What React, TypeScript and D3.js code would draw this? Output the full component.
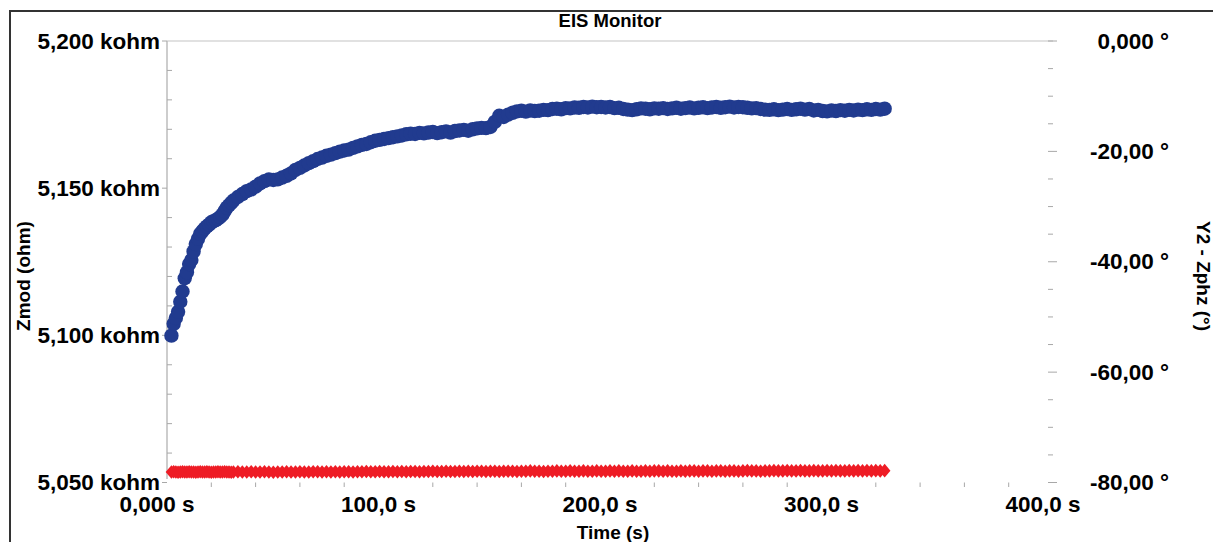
import React from 'react';
import * as d3 from 'd3';

// Sample times (s)
const timeS = [
  2, 3, 4, 5, 6, 7, 8, 9, 10, 11,
  12, 13, 14, 15, 16, 17, 18, 19, 20, 21,
  22, 23, 24, 25, 26, 27, 28, 29, 30, 32,
  34, 36, 38, 40, 42, 44, 46, 48, 50, 52,
  54, 56, 58, 60, 62, 64, 66, 68, 70, 72,
  74, 76, 78, 80, 82, 84, 86, 88, 90, 92,
  94, 96, 98, 100, 102, 104, 106, 108, 110, 112,
  114, 116, 118, 120, 122, 124, 126, 128, 130, 132,
  134, 136, 138, 140, 142, 144, 146, 148, 150, 152,
  154, 156, 158, 160, 162, 164, 166, 168, 170, 172,
  174, 176, 178, 180, 182, 184, 186, 188, 190, 192,
  194, 196, 198, 200, 202, 204, 206, 208, 210, 212,
  214, 216, 218, 220, 222, 224, 226, 228, 230, 232,
  234, 236, 238, 240, 242, 244, 246, 248, 250, 252,
  254, 256, 258, 260, 262, 264, 266, 268, 270, 272,
  274, 276, 278, 280, 282, 284, 286, 288, 290, 292,
  294, 296, 298, 300, 302, 304, 306, 308, 310, 312,
  314, 316, 318, 320, 322, 324,
];

// Zmod (kohm)
const zmodKohm = [
  5099.9, 5103.9, 5105.9, 5108.0, 5111.4, 5114.9, 5119.4, 5121.4, 5124.2, 5125.6,
  5128.5, 5131.0, 5132.8, 5134.5, 5135.4, 5136.3, 5137.0, 5137.6, 5138.4, 5138.8,
  5139.1, 5139.6, 5140.2, 5141.0, 5142.2, 5143.4, 5144.2, 5145.0, 5145.8, 5147.0,
  5148.0, 5149.0, 5149.6, 5150.5, 5151.6, 5152.4, 5153.0, 5152.8, 5153.0, 5153.6,
  5154.2, 5155.0, 5156.2, 5156.9, 5157.7, 5158.5, 5159.2, 5159.9, 5160.4, 5161.0,
  5161.4, 5161.9, 5162.4, 5162.8, 5163.1, 5163.7, 5164.2, 5164.7, 5165.0, 5165.6,
  5166.1, 5166.4, 5166.7, 5167.0, 5167.3, 5167.6, 5167.9, 5168.3, 5168.5, 5168.4,
  5168.8, 5168.6, 5168.9, 5169.1, 5168.7, 5169.0, 5169.3, 5168.9, 5169.4, 5169.6,
  5169.8, 5169.5, 5170.0, 5170.3, 5170.5, 5170.4, 5170.8, 5172.5, 5174.6, 5174.2,
  5175.0, 5175.6, 5176.1, 5176.3, 5176.0, 5176.4, 5176.2, 5176.3, 5176.6, 5176.5,
  5176.9, 5177.0, 5176.8, 5177.2, 5177.1, 5177.4, 5177.3, 5177.6, 5177.4, 5177.7,
  5177.5, 5177.6, 5177.4, 5177.6, 5177.2, 5177.3, 5176.9, 5176.7, 5176.5, 5176.8,
  5177.1, 5177.0, 5176.8, 5177.1, 5177.0, 5177.2, 5176.9, 5177.1, 5177.3, 5177.0,
  5177.2, 5177.4, 5177.1, 5177.3, 5177.5, 5177.2, 5177.4, 5177.6, 5177.3, 5177.5,
  5177.7, 5177.4, 5177.6, 5177.5, 5177.3, 5177.1, 5177.2, 5176.9, 5176.7, 5176.6,
  5176.8, 5176.5, 5176.7, 5176.9, 5176.6, 5176.8, 5177.0, 5176.7, 5176.9, 5176.4,
  5176.6, 5176.2, 5176.1, 5176.4, 5176.2, 5176.5, 5176.3, 5176.6, 5176.4, 5176.7,
  5176.5, 5176.8, 5176.6, 5176.9, 5176.7, 5177.0,
];

// Zphz (degrees)
const zphzDeg = [
  -78.10, -78.05, -78.10, -78.15, -78.10, -78.05, -78.10, -78.10, -78.05, -78.10,
  -78.10, -78.15, -78.10, -78.05, -78.10, -78.10, -78.05, -78.10, -78.15, -78.10,
  -78.10, -78.05, -78.10, -78.10, -78.05, -78.10, -78.10, -78.15, -78.10, -78.05,
  -78.10, -78.10, -78.05, -78.10, -78.10, -78.05, -78.10, -78.15, -78.10, -78.10,
  -78.05, -78.10, -78.10, -78.05, -78.10, -78.10, -78.05, -78.05, -78.10, -78.05,
  -78.10, -78.05, -78.10, -78.05, -78.05, -78.10, -78.05, -78.05, -78.00, -78.05,
  -78.05, -78.00, -78.05, -78.05, -78.00, -78.05, -78.00, -78.05, -78.00, -78.00,
  -78.05, -78.00, -78.00, -77.95, -78.00, -78.00, -77.95, -78.00, -78.00, -77.95,
  -78.00, -77.95, -78.00, -77.95, -77.95, -78.00, -77.95, -77.95, -78.00, -77.95,
  -77.95, -77.95, -78.00, -77.95, -77.95, -77.90, -77.95, -77.95, -78.00, -77.95,
  -77.95, -77.90, -77.95, -77.95, -77.90, -77.95, -77.95, -77.90, -77.95, -77.95,
  -77.90, -77.95, -77.95, -77.90, -77.95, -77.90, -77.95, -77.95, -77.90, -77.95,
  -77.95, -77.90, -77.95, -77.90, -77.90, -77.95, -77.90, -77.95, -77.95, -77.90,
  -77.95, -77.90, -77.90, -77.95, -77.90, -77.90, -77.95, -77.90, -77.90, -77.95,
  -77.90, -77.90, -77.95, -77.90, -77.85, -77.90, -77.90, -77.95, -77.90, -77.90,
  -77.85, -77.90, -77.90, -77.85, -77.90, -77.90, -77.85, -77.90, -77.90, -77.85,
  -77.90, -77.90, -77.85, -77.90, -77.85, -77.90, -77.90, -77.85, -77.90, -77.85,
  -77.90, -77.85, -77.90, -77.85, -77.90, -77.85,
];

const xTicks = [0, 100, 200, 300, 400];
const xTickLabels = ['0,000 s', '100,0 s', '200,0 s', '300,0 s', '400,0 s'];
const yLeftTicks = [5050, 5100, 5150, 5200];
const yLeftLabels = ['5,050 kohm', '5,100 kohm', '5,150 kohm', '5,200 kohm'];
const yRightTicks = [0, -20, -40, -60, -80];
const yRightLabels = ['0,000 °', '-20,00 °', '-40,00 °', '-60,00 °', '-80,00 °'];

const chartTitle = 'EIS Monitor';
const xTitle = 'Time (s)';
const yLeftTitle = 'Zmod (ohm)';
const yRightTitle = 'Y2 - Zphz (°)';

const FONT = "'Liberation Sans', Arial, sans-serif";

export default function App() {
  const W = 1213;
  const H = 542;
  const left = 167;
  const right = 1053;
  const top = 41;
  const bottom = 482.5;

  const x = d3.scaleLinear().domain([0, 400]).range([left, right]);
  const yL = d3.scaleLinear().domain([5050, 5200]).range([bottom, top]);
  const yR = d3.scaleLinear().domain([-80, 0]).range([bottom, top]);

  const xMinor = x.ticks(20).filter((v) => !xTicks.includes(v));
  const yLMinor = yL.ticks(15).filter((v) => !yLeftTicks.includes(v));
  const yRMinor = yR.ticks(16).filter((v) => !yRightTicks.includes(v));

  const tickColor = '#a8a8a8';
  const blue = '#213b8f';
  const red = '#ee1c25';

  const diamond = 'M0,-6.8L5.8,0L0,6.8L-5.8,0Z';

  return (
    <svg
      width={W}
      height={H}
      style={{ position: 'absolute', left: 0, top: 0, background: '#fff' }}
      fontFamily={FONT}
    >
      <rect x={0} y={0} width={W} height={H} fill="#fff" />
      {/* outer frame */}
      <rect x={10} y={11} width={1220} height={560} fill="none" stroke="#333" strokeWidth={2} />

      {/* title */}
      <text x={(left + right) / 2} y={27} textAnchor="middle" fontSize={18.5} fontWeight="bold" fill="#000">
        {chartTitle}
      </text>

      {/* top border line of plot */}
      <line x1={left} x2={right} y1={top} y2={top} stroke="#c4c4c4" strokeWidth={1.2} />
      {/* left axis line */}
      <line x1={left} x2={left} y1={top} y2={479} stroke="#bdbdbd" strokeWidth={1.5} />

      {/* left axis minor ticks (inside) */}
      {yLMinor.map((v) => (
        <line key={'lm' + v} x1={left} x2={left + 5} y1={yL(v)} y2={yL(v)} stroke={tickColor} strokeWidth={1} />
      ))}
      {/* left axis major ticks (outside) */}
      {yLeftTicks.map((v) => (
        <line key={'lM' + v} x1={left - 5} x2={left} y1={yL(v)} y2={yL(v)} stroke={tickColor} strokeWidth={1} />
      ))}
      {yLeftTicks.map((v, i) => (
        <text
          key={'ll' + v}
          x={160}
          y={yL(v)}
          dy="0.34em"
          textAnchor="end"
          fontSize={22.5}
          fontWeight="bold"
          fill="#000"
        >
          {yLeftLabels[i]}
        </text>
      ))}

      {/* right axis ticks */}
      {yRMinor.map((v) => (
        <line key={'rm' + v} x1={right - 5} x2={right} y1={yR(v)} y2={yR(v)} stroke={tickColor} strokeWidth={1} />
      ))}
      {yRightTicks.map((v) => (
        <line key={'rM' + v} x1={right - 5} x2={right + 4} y1={yR(v)} y2={yR(v)} stroke={tickColor} strokeWidth={1} />
      ))}
      {yRightTicks.map((v, i) => (
        <text
          key={'rl' + v}
          x={1169}
          y={yR(v)}
          dy="0.34em"
          textAnchor="end"
          fontSize={22.5}
          fontWeight="bold"
          fill="#000"
        >
          {yRightLabels[i]}
        </text>
      ))}

      {/* x axis ticks */}
      {xMinor.map((v) => (
        <line key={'xm' + v} x1={x(v)} x2={x(v)} y1={bottom} y2={bottom + 4.5} stroke={tickColor} strokeWidth={1} />
      ))}
      {xTicks.map((v, i) => (
        <text
          key={'xl' + v}
          x={x(v) - 10}
          y={511.5}
          textAnchor="middle"
          fontSize={22.5}
          fontWeight="bold"
          fill="#000"
        >
          {xTickLabels[i]}
        </text>
      ))}

      {/* axis titles */}
      <text x={(left + right) / 2 + 3} y={539} textAnchor="middle" fontSize={19} fontWeight="bold" fill="#000">
        {xTitle}
      </text>
      <text
        transform={`translate(23, 276) rotate(-90)`}
        textAnchor="middle"
        dy="0.36em"
        fontSize={19}
        fontWeight="bold"
        fill="#000"
      >
        {yLeftTitle}
      </text>
      <text
        transform={`translate(1203.5, 276) rotate(90)`}
        textAnchor="middle"
        dy="0.36em"
        fontSize={19}
        fontWeight="bold"
        fill="#000"
      >
        {yRightTitle}
      </text>

      {/* Zmod series */}
      <g>
        {timeS.map((t, i) => (
          <circle key={'b' + i} cx={x(t)} cy={yL(zmodKohm[i])} r={7.2} fill={blue} />
        ))}
      </g>
      {/* Zphz series */}
      <g>
        {timeS.map((t, i) => (
          <path key={'r' + i} d={diamond} transform={`translate(${x(t)},${yR(zphzDeg[i])})`} fill={red} />
        ))}
      </g>
    </svg>
  );
}
